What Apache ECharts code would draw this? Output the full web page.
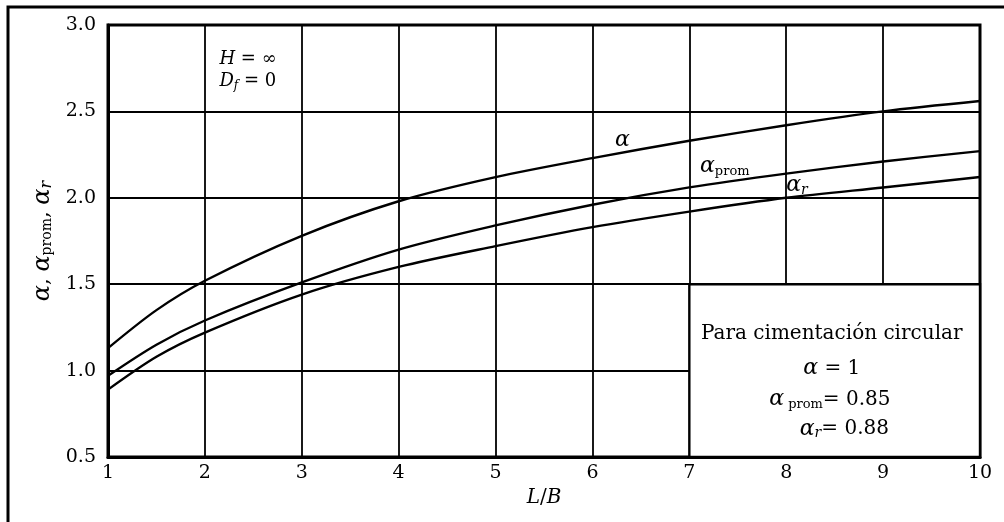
<!DOCTYPE html>
<html>
<head>
<meta charset="utf-8">
<script src="https://cdn.jsdelivr.net/npm/echarts@6/dist/echarts.min.js"></script>
<style>
html,body{margin:0;padding:0;background:#fff;}
#chart{width:1004px;height:522px;}
</style>
</head>
<body>
<div id="chart"></div>
<script>
// L/B values
const xValues = [1, 1.5, 2, 3, 4, 5, 6, 7, 8, 9, 10];
// curves
const alpha     = [1.13, 1.35, 1.52, 1.78, 1.98, 2.12, 2.23, 2.33, 2.42, 2.50, 2.56];
const alphaProm = [0.97, 1.15, 1.29, 1.51, 1.70, 1.84, 1.96, 2.06, 2.14, 2.21, 2.27];
const alphaR    = [0.89, 1.08, 1.22, 1.44, 1.60, 1.72, 1.83, 1.92, 2.00, 2.06, 2.12];
// axis ranges / ticks
const xRange = [1, 10];
const yRange = [0.5, 3.0];
const yStep = 0.5;
// box for circular foundation (data coords)
const boxFrom = [7, 0.5];
const boxTo = [10, 1.5];

const SERIF = "'DejaVu Serif', 'Liberation Serif', serif";
const INK = '#000';

function pairs(ys) { return xValues.map((x, i) => [x, ys[i]]); }

const chart = echarts.init(document.getElementById('chart'), null, {renderer: 'canvas'});

const lineStyle = {color: INK, width: 2.4};
const baseSeries = (name, ys) => ({
  name, type: 'line', data: pairs(ys), smooth: 0.3,
  showSymbol: false, symbol: 'none', lineStyle, z: 3, silent: true
});

const option = {
  backgroundColor: '#fff',
  animation: false,
  grid: {left: 108, right: 24, top: 25, bottom: 65, show: true, borderColor: INK, borderWidth: 3, containLabel: false},
  xAxis: {
    type: 'value', min: xRange[0], max: xRange[1], interval: 1,
    axisLine: {show: true, lineStyle: {color: INK, width: 3}},
    axisTick: {show: false},
    splitLine: {show: true, lineStyle: {color: INK, width: 1.8}},
    axisLabel: {color: INK, fontFamily: SERIF, fontSize: 19, margin: 7},
    name: '{i|L}/{i|B}', nameLocation: 'middle', nameGap: 30,
    nameTextStyle: {color: INK, fontFamily: SERIF, fontSize: 20,
      rich: {i: {fontStyle: 'italic', fontFamily: SERIF, fontSize: 20, color: INK}}}
  },
  yAxis: {
    type: 'value', min: yRange[0], max: yRange[1], interval: yStep,
    axisLine: {show: true, lineStyle: {color: INK, width: 3}},
    axisTick: {show: false},
    splitLine: {show: true, lineStyle: {color: INK, width: 1.8}},
    axisLabel: {color: INK, fontFamily: SERIF, fontSize: 19, margin: 12,
      formatter: v => v.toFixed(1)},
    name: '{a|α}{t|, }{a|α}{s|prom}{t|, }{a|α}{sr|r}',
    nameLocation: 'middle', nameRotate: 90, nameGap: 52,
    nameTextStyle: {color: INK,
      rich: {
        a: {fontFamily: SERIF, fontStyle: 'italic', fontSize: 24, color: INK},
        t: {fontFamily: SERIF, fontSize: 21, color: INK},
        s: {fontFamily: SERIF, fontSize: 14, color: INK, padding: [10, 0, 0, 0]},
        sr: {fontFamily: SERIF, fontStyle: 'italic', fontSize: 16, color: INK, padding: [9, 0, 0, 0]}
      }}
  },
  series: [
    Object.assign(baseSeries('α', alpha), {
      markArea: {silent: true, z: 4,
        itemStyle: {color: '#fff', borderColor: INK, borderWidth: 2.4},
        data: [[{coord: boxFrom}, {coord: boxTo}]]}
    }),
    baseSeries('αprom', alphaProm),
    baseSeries('αr', alphaR)
  ]
};
chart.setOption(option);

// annotations placed in data coordinates
const richBase = {
  a: {fontFamily: SERIF, fontStyle: 'italic', fontSize: 22, fill: INK},
  i: {fontFamily: SERIF, fontStyle: 'italic', fontSize: 18, fill: INK},
  n: {fontFamily: SERIF, fontSize: 18, fill: INK},
  t: {fontFamily: SERIF, fontSize: 20, fill: INK},
  s: {fontFamily: SERIF, fontSize: 13, fill: INK, padding: [10, 0, 0, 0]},
  sf: {fontFamily: SERIF, fontStyle: 'italic', fontSize: 12, fill: INK, padding: [9, 0, 0, 0]},
  sr: {fontFamily: SERIF, fontStyle: 'italic', fontSize: 14, fill: INK, padding: [9, 0, 0, 0]}
};
const notes = [
  {at: [2.15, 2.80], text: '{i|H}{n| = ∞}', align: 'left'},
  {at: [2.15, 2.675], text: '{i|D}{sf|f}{n| = 0}', align: 'left'},
  {at: [6.31, 2.33], text: '{a|α}', align: 'center'},
  {at: [7.11, 2.18], text: '{a|α}{s|prom}', align: 'left'},
  {at: [8.0, 2.07], text: '{a|α}{sr|r}', align: 'left'},
  {at: [8.47, 1.212], text: '{t|Para cimentación circular}', align: 'center'},
  {at: [8.47, 1.013], text: '{a|α}{t| = 1}', align: 'center'},
  {at: [8.45, 0.832], text: '{a|α}{s| prom}{t|= 0.85}', align: 'center'},
  {at: [8.6, 0.663], text: '{a|α}{sr|r}{t|= 0.88}', align: 'center'}
];
const graphics = [{
  type: 'rect', shape: {x: 8, y: 7, width: 1010, height: 530},
  style: {fill: null, stroke: INK, lineWidth: 3}, z: 10, silent: true
}];
notes.forEach(n => {
  const p = chart.convertToPixel({gridIndex: 0}, n.at);
  graphics.push({
    type: 'text', x: p[0], y: p[1], z: 20, silent: true,
    style: {text: n.text, align: n.align, verticalAlign: 'middle', rich: richBase, fill: INK}
  });
});
chart.setOption({graphic: graphics});
</script>
</body>
</html>
